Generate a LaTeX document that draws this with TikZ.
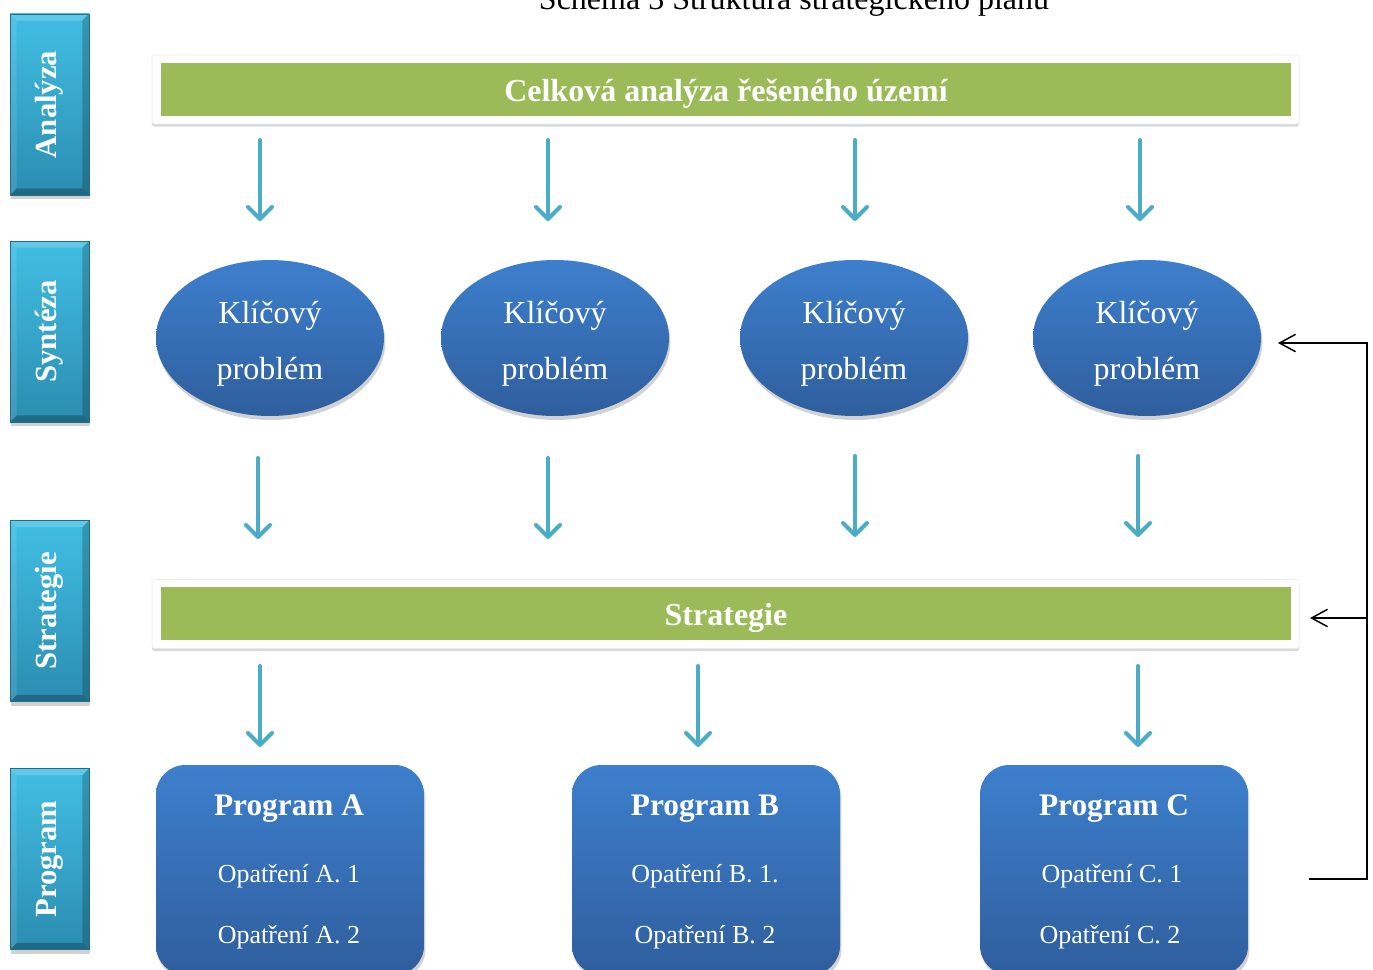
\documentclass[tikz,border=0pt]{standalone}
\usepackage{fontspec}
\setmainfont{Liberation Serif}
\usetikzlibrary{arrows.meta,shapes.geometric,shadows}
\definecolor{tealtop}{HTML}{41BEE3}
\definecolor{tealbot}{HTML}{2B8DB1}
\definecolor{tealedge}{HTML}{1F6F8C}
\definecolor{barg}{HTML}{9BBB59}
\definecolor{bluetop}{HTML}{3D7FCD}
\definecolor{bluebot}{HTML}{2F5E9D}
\definecolor{arrteal}{HTML}{4BACC6}
\tikzset{
  sidebox/.style={rectangle, minimum width=59.25pt, minimum height=135.75pt,
    top color=tealtop, bottom color=tealbot, draw=tealedge, line width=0.6pt,
    drop shadow={opacity=0.35, shadow xshift=1pt, shadow yshift=-3pt},
    text=white, font=\bfseries\fontsize{23}{26}\selectfont, inner sep=0pt,
    path picture={
      \fill[white,opacity=0.18] (path picture bounding box.north west) -- (path picture bounding box.north east)
        -- ([xshift=-5pt,yshift=-5pt]path picture bounding box.north east) -- ([xshift=5pt,yshift=-5pt]path picture bounding box.north west) -- cycle;
      \fill[white,opacity=0.10] (path picture bounding box.north west) -- ([xshift=5pt,yshift=-5pt]path picture bounding box.north west)
        -- ([xshift=5pt,yshift=5pt]path picture bounding box.south west) -- (path picture bounding box.south west) -- cycle;
      \fill[black,opacity=0.20] (path picture bounding box.north east) -- ([xshift=-5pt,yshift=-5pt]path picture bounding box.north east)
        -- ([xshift=-5pt,yshift=5pt]path picture bounding box.south east) -- (path picture bounding box.south east) -- cycle;
      \fill[black,opacity=0.25] (path picture bounding box.south west) -- ([xshift=5pt,yshift=5pt]path picture bounding box.south west)
        -- ([xshift=-5pt,yshift=5pt]path picture bounding box.south east) -- (path picture bounding box.south east) -- cycle;
    }},
  barframe/.style={rectangle, minimum width=860.25pt, minimum height=51.75pt, fill=white,
    draw=black!8, rounded corners=2pt,
    drop shadow={opacity=0.3, shadow xshift=0pt, shadow yshift=-2pt}},
  greenbar/.style={rectangle, minimum width=847.5pt, minimum height=39.75pt, fill=barg,
    text=white, font=\bfseries\fontsize{24}{28}\selectfont, text height=17.5pt, text depth=0pt},
  keyprob/.style={ellipse, minimum width=171pt, minimum height=117pt, inner sep=0pt,
    top color=bluetop, bottom color=bluebot,
    drop shadow={opacity=0.35, shadow xshift=1pt, shadow yshift=-3pt}},
  keytext/.style={text=white, font=\fontsize{24}{42}\selectfont, align=center},
  progbox/.style={rectangle, rounded corners=22pt, minimum width=201pt, minimum height=157.5pt,
    top color=bluetop, bottom color=bluebot,
    drop shadow={opacity=0.35, shadow xshift=1pt, shadow yshift=-3pt}},
  progtitle/.style={text=white, font=\bfseries\fontsize{23.5}{26}\selectfont},
  progitem/.style={text=white, font=\fontsize{19.5}{22}\selectfont},
  tarrow/.style={draw=arrteal, line width=3pt, line cap=round, -{Straight Barb[length=9pt,width=18pt,round]}},
  fb/.style={draw=black, line width=1.1pt},
  fbarrow/.style={fb, -{Straight Barb[length=12pt,width=13pt]}}
}
\begin{document}
\begin{tikzpicture}[x=0.75pt,y=-0.75pt]
\clip (0,0) rectangle (1373,970);
\fill[white] (0,0) rectangle (1373,970);

% title (cut at top)
\node[anchor=base, font=\fontsize{24}{28}\selectfont, inner sep=0pt] (title) at (794,10) {Schéma 3 Struktura strategického plánu};

% side boxes
\node[sidebox] (sAna) at (49.5,104.5) {\rotatebox{90}{Analýza}};
\node[sidebox] (sSyn) at (49.5,331.5) {\rotatebox{90}{Syntéza}};
\node[sidebox] (sStr) at (49.5,611) {\rotatebox{90}{Strategie}};
\node[sidebox] (sPro) at (49.5,859) {\rotatebox{90}{Program}};

% green bars
\node[barframe] (anaframe) at (725.5,89.5) {};
\node[greenbar] (ana) at (726,89.5) {Celková analýza řešeného území};
\node[barframe] (strframe) at (725.5,614) {};
\node[greenbar] (str) at (726,613.5) {Strategie};

% key problems
\node[keyprob] (k1) at (270,338) {};
\node[keyprob] (k2) at (555,338) {};
\node[keyprob] (k3) at (854,338) {};
\node[keyprob] (k4) at (1147,338) {};
\node[keytext] (k1t) at (270,344) {Klíčový\\problém};
\node[keytext] (k2t) at (555,344) {Klíčový\\problém};
\node[keytext] (k3t) at (854,344) {Klíčový\\problém};
\node[keytext] (k4t) at (1147,344) {Klíčový\\problém};

% programs
\node[progbox] (pA) at (290,870) {};
\node[progbox] (pB) at (706,870) {};
\node[progbox] (pC) at (1114,870) {};
\node[progtitle] (pAt) at (289,809) {Program A};
\node[progtitle] (pBt) at (705,809) {Program B};
\node[progtitle] (pCt) at (1114,809) {Program C};
\node[progitem] (pA1) at (289,876) {Opatření A. 1};
\node[progitem] (pA2) at (289,937) {Opatření A. 2};
\node[progitem] (pB1) at (705,876) {Opatření B. 1.};
\node[progitem] (pB2) at (705,937) {Opatření B. 2};
\node[progitem] (pC1) at (1112,876) {Opatření C. 1};
\node[progitem] (pC2) at (1110,937) {Opatření C. 2};

% arrow coordinates
\coordinate (a1s) at (260,140); \coordinate (a1e) at (260,221);
\coordinate (a2s) at (548,140); \coordinate (a2e) at (548,221);
\coordinate (a3s) at (855,140); \coordinate (a3e) at (855,221);
\coordinate (a4s) at (1140,140); \coordinate (a4e) at (1140,221);
\coordinate (b1s) at (258,458); \coordinate (b1e) at (258,539);
\coordinate (b2s) at (548,458); \coordinate (b2e) at (548,539);
\coordinate (b3s) at (855,456); \coordinate (b3e) at (855,537);
\coordinate (b4s) at (1138,456); \coordinate (b4e) at (1138,537);
\coordinate (c1s) at (260,666); \coordinate (c1e) at (260,747);
\coordinate (c2s) at (698,666); \coordinate (c2e) at (698,747);
\coordinate (c3s) at (1138,666); \coordinate (c3e) at (1138,747);
\foreach \n in {a1,a2,a3,a4,b1,b2,b3,b4,c1,c2,c3}{
  \draw[tarrow] (\n s) -- (\n e);
}

% feedback loop
\coordinate (fbs) at (1309,879);
\coordinate (fbtop) at (1367,343);
\coordinate (fbend) at (1278,343);
\coordinate (fbmid) at (1367,618);
\coordinate (fbend2) at (1310,618);
\draw[fbarrow] (fbs) -| (fbtop) -- (fbend);
\draw[fbarrow] (fbmid) -- (fbend2);
\end{tikzpicture}
\end{document}
